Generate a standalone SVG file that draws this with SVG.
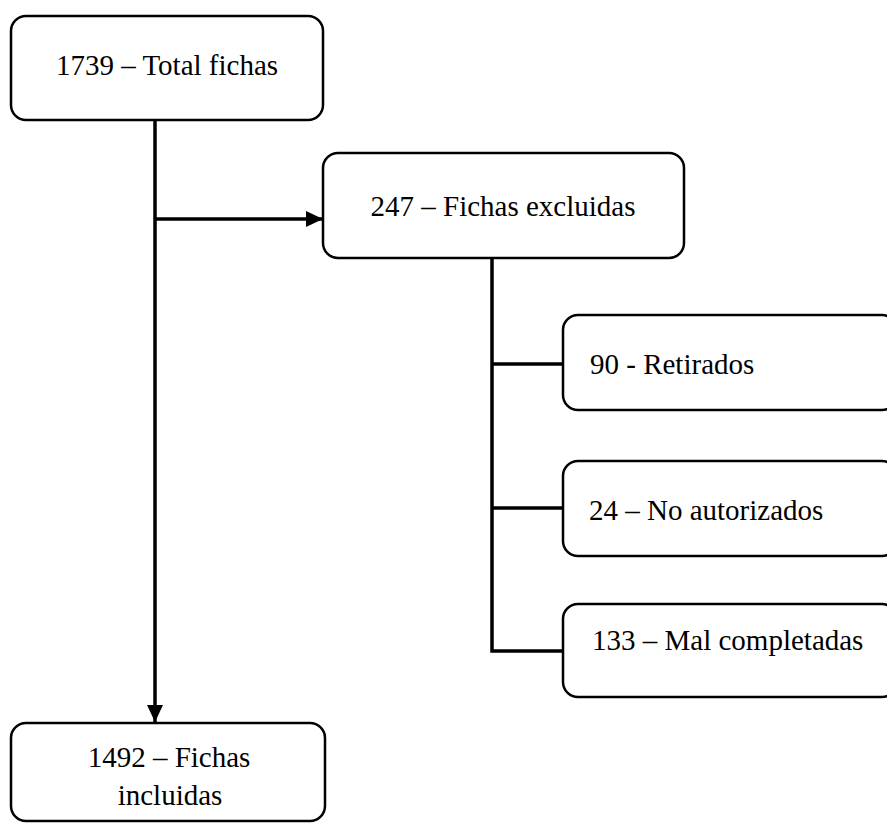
<svg xmlns="http://www.w3.org/2000/svg" width="887" height="823" viewBox="0 0 887 823">
<style>
.box{fill:#fff;stroke:#000;stroke-width:2.5}
.ln{fill:none;stroke:#000;stroke-width:3.5}
.t{font-family:"Liberation Serif","Times New Roman",serif;font-size:29px;fill:#000}
.c{text-anchor:middle}
</style>
<defs>
<marker id="arr" markerUnits="userSpaceOnUse" markerWidth="18" markerHeight="17" refX="17" refY="8" orient="auto">
<path d="M0,0 L17,8 L0,16 z" fill="#000"/>
</marker>
</defs>
<rect width="887" height="823" fill="#fff"/>
<g id="connectors">
<line class="ln" x1="155" y1="120" x2="155" y2="722" marker-end="url(#arr)"/>
<line class="ln" x1="155" y1="219" x2="323" y2="219" marker-end="url(#arr)"/>
<polyline class="ln" points="492,258 492,651 563,651"/>
<line class="ln" x1="492" y1="364" x2="563" y2="364"/>
<line class="ln" x1="492" y1="508" x2="563" y2="508"/>
</g>
<g id="total">
<rect class="box" x="11" y="16" width="312" height="104" rx="15"/>
<text class="t c" x="167" y="75">1739 – Total fichas</text>
</g>
<g id="excluidas">
<rect class="box" x="323" y="153" width="361" height="105" rx="15"/>
<text class="t c" x="503" y="216">247 – Fichas excluidas</text>
</g>
<g id="retirados">
<rect class="box" x="563" y="315" width="334" height="95" rx="15"/>
<text class="t" x="590" y="374">90 - Retirados</text>
</g>
<g id="noautorizados">
<rect class="box" x="563" y="461" width="334" height="95" rx="15"/>
<text class="t" x="589" y="520">24 – No autorizados</text>
</g>
<g id="malcompletadas">
<rect class="box" x="563" y="604" width="334" height="93" rx="15"/>
<text class="t" x="592" y="650">133 – Mal completadas</text>
</g>
<g id="incluidas">
<rect class="box" x="11" y="723" width="314" height="98" rx="15"/>
<text class="t c" x="169" y="767">1492 – Fichas</text>
<text class="t c" x="170" y="805">incluidas</text>
</g>
</svg>
